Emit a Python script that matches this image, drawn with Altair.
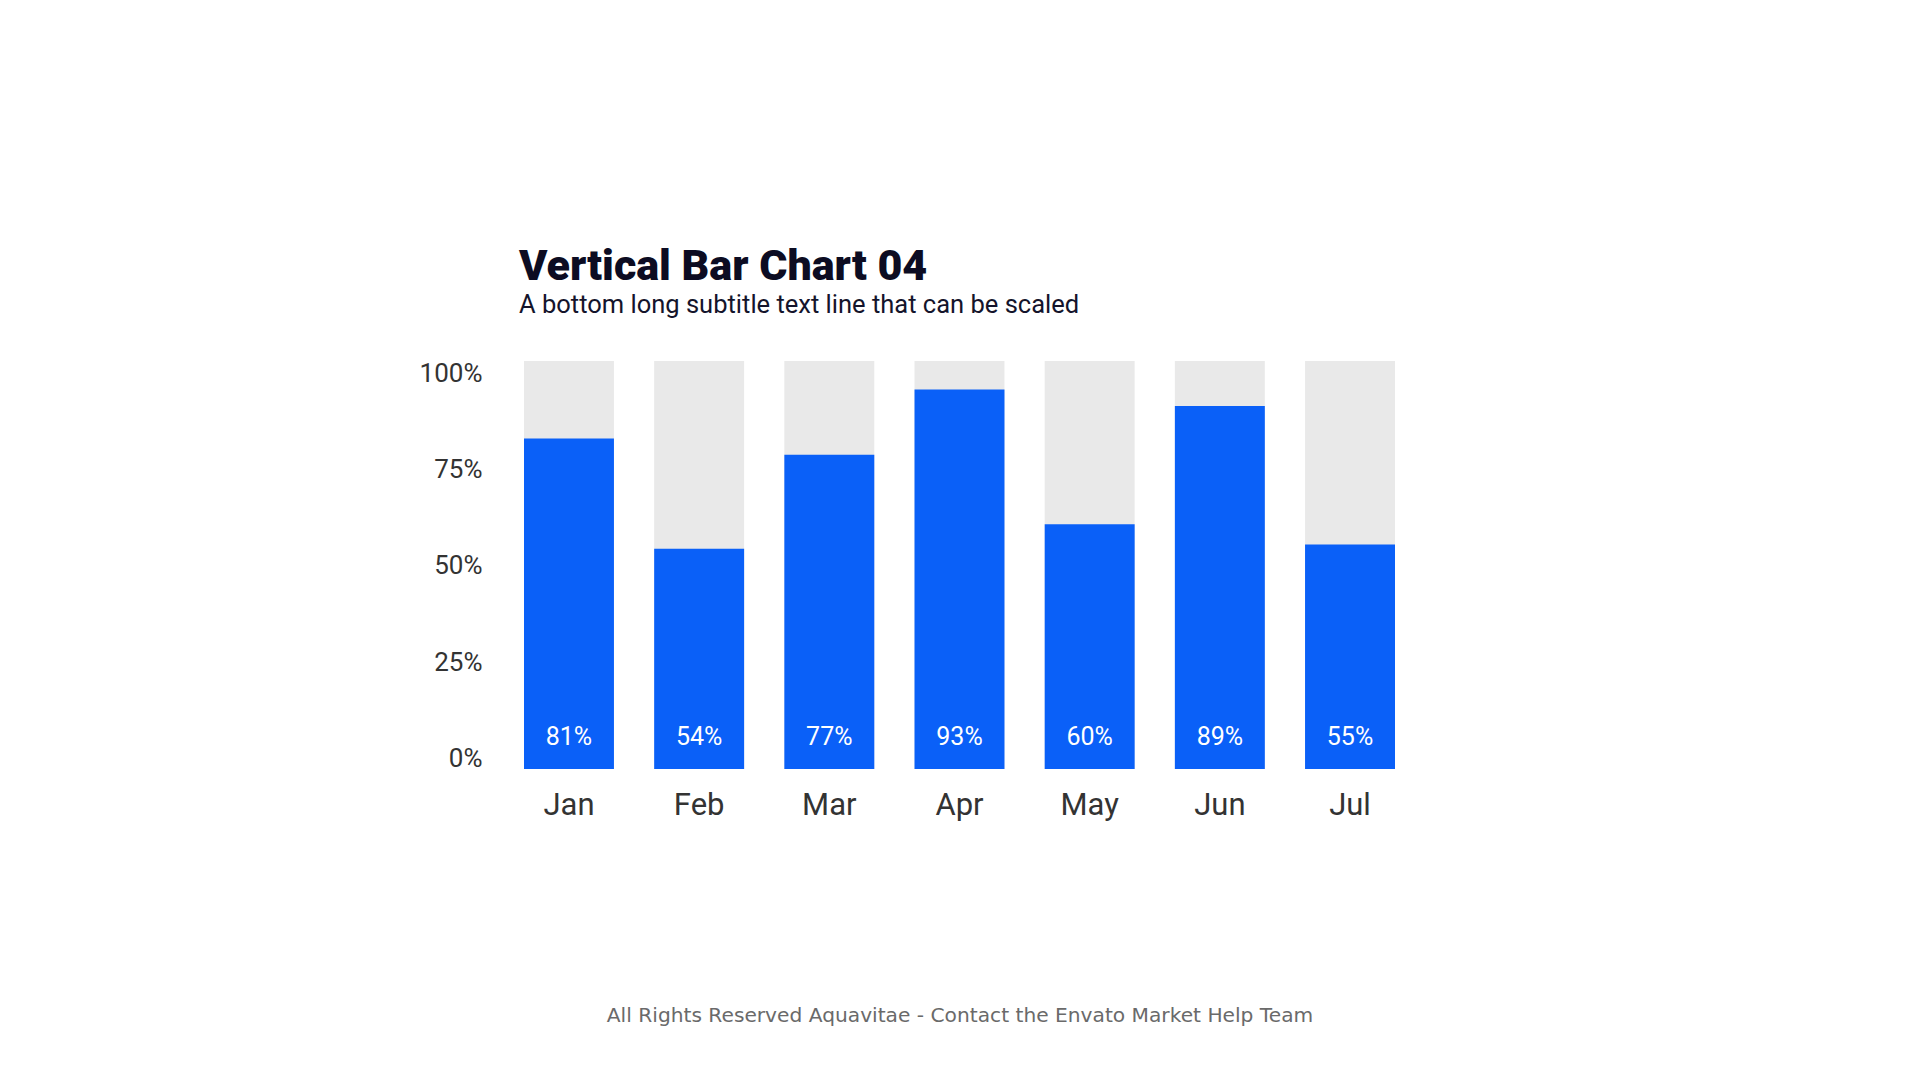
import altair as alt
import pandas as pd

months = ["Jan", "Feb", "Mar", "Apr", "May", "Jun", "Jul"]
values = [81, 54, 77, 93, 60, 89, 55]
full = [100, 100, 100, 100, 100, 100, 100]
tick_values = [0, 25, 50, 75, 100]

df = pd.DataFrame({"month": months, "value": values, "full": full})
df["label"] = [f"{v}%" for v in values]
ticks_df = pd.DataFrame({"t": tick_values})

BLUE = "#0a60f8"
GRAY = "#e9e9e9"

x_enc = alt.X(
    "month:N",
    sort=months,
    scale=alt.Scale(paddingInner=0.309, paddingOuter=0),
    axis=alt.Axis(
        title="All Rights Reserved Aquavitae - Contact the Envato Market Help Team",
        labelFont="Roboto",
        labelFontSize=31,
        labelColor="#333333",
        labelPadding=21,
        labelAngle=0,
        titleFont="DejaVu Sans",
        titleFontSize=20.2,
        titleFontWeight="normal",
        titleColor="#6a6a6a",
        titlePadding=185,
    ),
)
yscale = alt.Scale(domain=[0, 100])

gray = alt.Chart(df).mark_bar(color=GRAY).encode(
    x=x_enc,
    y=alt.Y("full:Q", scale=yscale, axis=None),
)
blue = alt.Chart(df).mark_bar(color=BLUE).encode(
    x=x_enc,
    y=alt.Y("value:Q", scale=yscale, axis=None),
)
text = alt.Chart(df).mark_text(
    color="white", font="Roboto", fontSize=25, dy=-32, baseline="middle"
).encode(
    x=x_enc,
    y=alt.Y(datum=0, scale=yscale, axis=None),
    text="label:N",
)
bars = alt.layer(gray, blue, text)

axis_layer = alt.Chart(ticks_df).mark_point(opacity=0).encode(
    y=alt.Y(
        "t:Q",
        scale=alt.Scale(domain=[-2.73, 103.24], nice=False, zero=False),
        axis=alt.Axis(
            orient="left",
            values=tick_values,
            labelExpr="datum.value + '%'",
            labelFont="Roboto",
            labelFontSize=26,
            labelColor="#333333",
            labelPadding=42,
            title=None,
        ),
    )
)

chart = (
    alt.layer(bars, axis_layer)
    .resolve_scale(y="independent")
    .properties(
        width=871,
        height=408,
        padding={"left": 411, "top": 237, "right": 5, "bottom": 5},
        title=alt.TitleParams(
            text="Vertical Bar Chart 04",
            subtitle="A bottom long subtitle text line that can be scaled",
            anchor="start",
            frame="group",
            dx=-5,
            font="Roboto",
            fontSize=43,
            fontWeight=900,
            color="#0c0c22",
            subtitleFont="Roboto",
            subtitleFontSize=25.5,
            subtitleColor="#14142b",
            subtitlePadding=4,
            offset=42,
        ),
    )
    .configure_view(stroke=None)
    .configure_axis(domain=False, ticks=False, grid=False)
)

chart.save("out.html", embed_options={"renderer": "svg", "actions": False})
